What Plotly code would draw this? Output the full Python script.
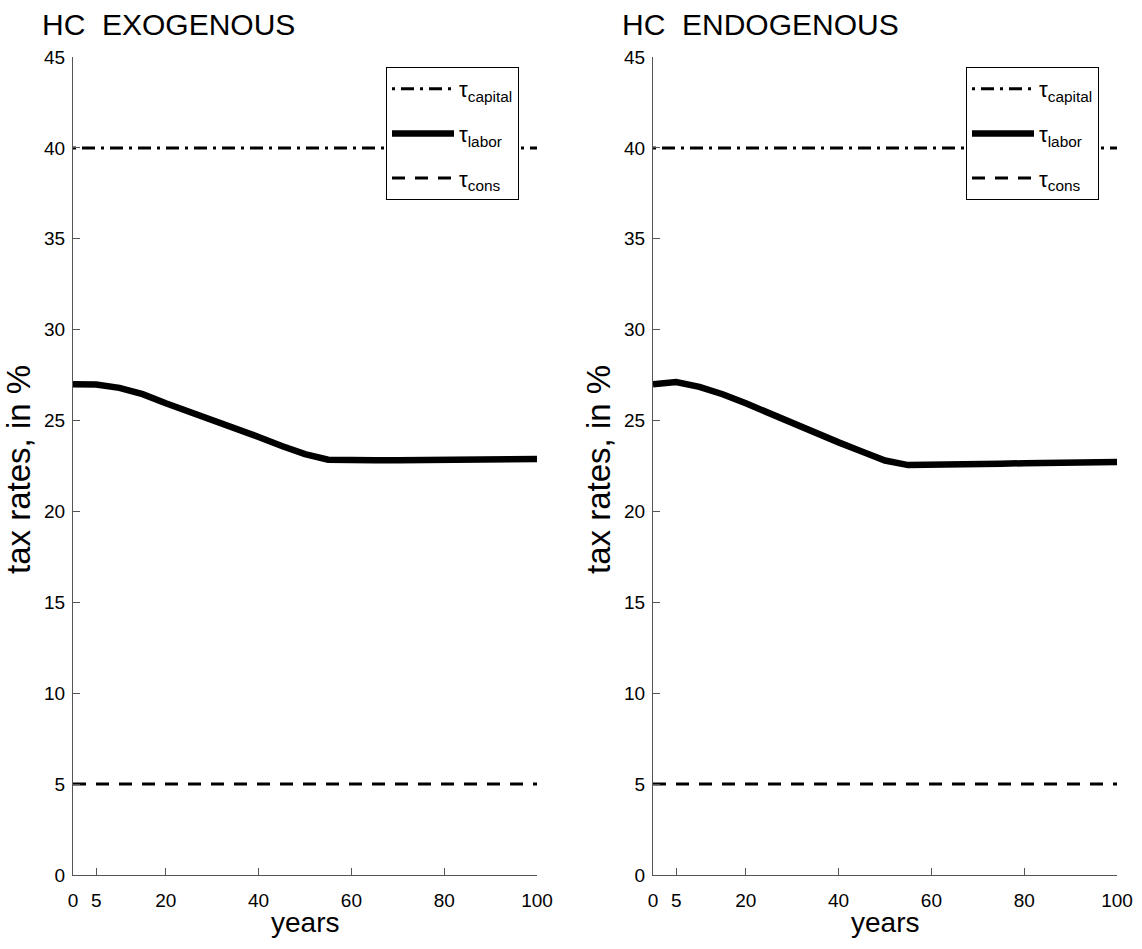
import plotly.graph_objects as go

years = [0, 5, 10, 15, 20, 25, 30, 35, 40, 45, 50, 55, 60, 65, 70, 75, 80, 85, 90, 95, 100]
labor_exo = [27.0, 26.98, 26.8, 26.45, 25.95, 25.5, 25.0, 24.55, 24.1, 23.6, 23.15, 22.85, 22.8, 22.81, 22.82, 22.83, 22.84, 22.85, 22.86, 22.87, 22.88]
labor_endo = [27.0, 27.12, 26.85, 26.45, 25.95, 25.4, 24.85, 24.3, 23.8, 23.3, 22.8, 22.55, 22.55, 22.58, 22.6, 22.63, 22.65, 22.67, 22.68, 22.7, 22.72]
capital_rate = 40
cons_rate = 5
titles = ["HC\u00a0 EXOGENOUS", "HC\u00a0 ENDOGENOUS"]
xtick_vals = [0, 5, 20, 40, 60, 80, 100]
ytick_vals = [0, 5, 10, 15, 20, 25, 30, 35, 40, 45]

W, H = 1142, 949
FONT = "Liberation Sans, Arial, sans-serif"

def px_x(p):
    return p / W

def px_y(p):
    return 1 - p / H

fig = go.Figure()
panels = [
    dict(labor=labor_exo, xa="x", ya="y", leg="legend"),
    dict(labor=labor_endo, xa="x2", ya="y2", leg="legend2"),
]
for pnl in panels:
    fig.add_trace(go.Scatter(x=[years[0], years[-1]], y=[capital_rate, capital_rate], mode="lines",
                             name="τ<sub>capital</sub>", legendgroup="cap",
                             line=dict(color="black", width=3, dash="3px,6px,13px,6px"),
                             xaxis=pnl["xa"], yaxis=pnl["ya"], legend=pnl["leg"]))
    fig.add_trace(go.Scatter(x=years, y=pnl["labor"], mode="lines",
                             name="τ<sub>labor</sub>", legendgroup="lab",
                             line=dict(color="black", width=6.5),
                             xaxis=pnl["xa"], yaxis=pnl["ya"], legend=pnl["leg"]))
    fig.add_trace(go.Scatter(x=[years[0], years[-1]], y=[cons_rate, cons_rate], mode="lines",
                             name="τ<sub>cons</sub>", legendgroup="cons",
                             line=dict(color="black", width=3, dash="13px,10px"),
                             xaxis=pnl["xa"], yaxis=pnl["ya"], legend=pnl["leg"]))

xdoms = [[px_x(73), px_x(537)], [px_x(653), px_x(1117)]]
ydom = [px_y(875), px_y(57)]

axis_common = dict(showgrid=False, zeroline=False, showline=True, linecolor="#555", linewidth=1,
                   automargin=False, ticks="inside", ticklen=7, tickcolor="#555",
                   tickfont=dict(family=FONT, size=19, color="black"))

for i, (xn, yn) in enumerate([("xaxis", "yaxis"), ("xaxis2", "yaxis2")]):
    xid = "x" if i == 0 else "x2"
    yid = "y" if i == 0 else "y2"
    fig.layout[xn] = dict(domain=xdoms[i], range=[0, 100], anchor=yid, tickvals=xtick_vals,
                          ticklabelstandoff=8, **axis_common)
    fig.layout[yn] = dict(domain=ydom, range=[0, 45], anchor=xid, tickvals=ytick_vals,
                          ticklabelstandoff=3, **axis_common)

annotations = []
for i in range(2):
    annotations.append(dict(text=titles[i], x=px_x(40 + 580 * i), y=px_y(24), xref="paper", yref="paper",
                            xanchor="left", yanchor="middle", showarrow=False,
                            font=dict(family=FONT, size=30, color="black")))
    annotations.append(dict(text="years", x=(xdoms[i][0] + xdoms[i][1]) / 2, y=px_y(922), xref="paper", yref="paper",
                            xanchor="center", yanchor="middle", showarrow=False,
                            font=dict(family=FONT, size=28, color="black")))
    annotations.append(dict(text="tax rates, in %", x=px_x(19 + 580 * i), y=px_y(470), xref="paper", yref="paper",
                            xanchor="center", yanchor="middle", showarrow=False, textangle=-90,
                            font=dict(family=FONT, size=33, color="black")))

legend_common = dict(bgcolor="white", bordercolor="black", borderwidth=1, xanchor="left", yanchor="top",
                     font=dict(family=FONT, size=22, color="black"), itemwidth=62, tracegroupgap=13)
fig.update_layout(
    width=W, height=H, margin=dict(l=0, r=0, t=0, b=0),
    paper_bgcolor="white", plot_bgcolor="white",
    showlegend=True,
    legend=dict(x=px_x(386), y=px_y(67), **legend_common),
    legend2=dict(x=px_x(966), y=px_y(67), **legend_common),
    annotations=annotations,
)

fig.write_html("out.html")
